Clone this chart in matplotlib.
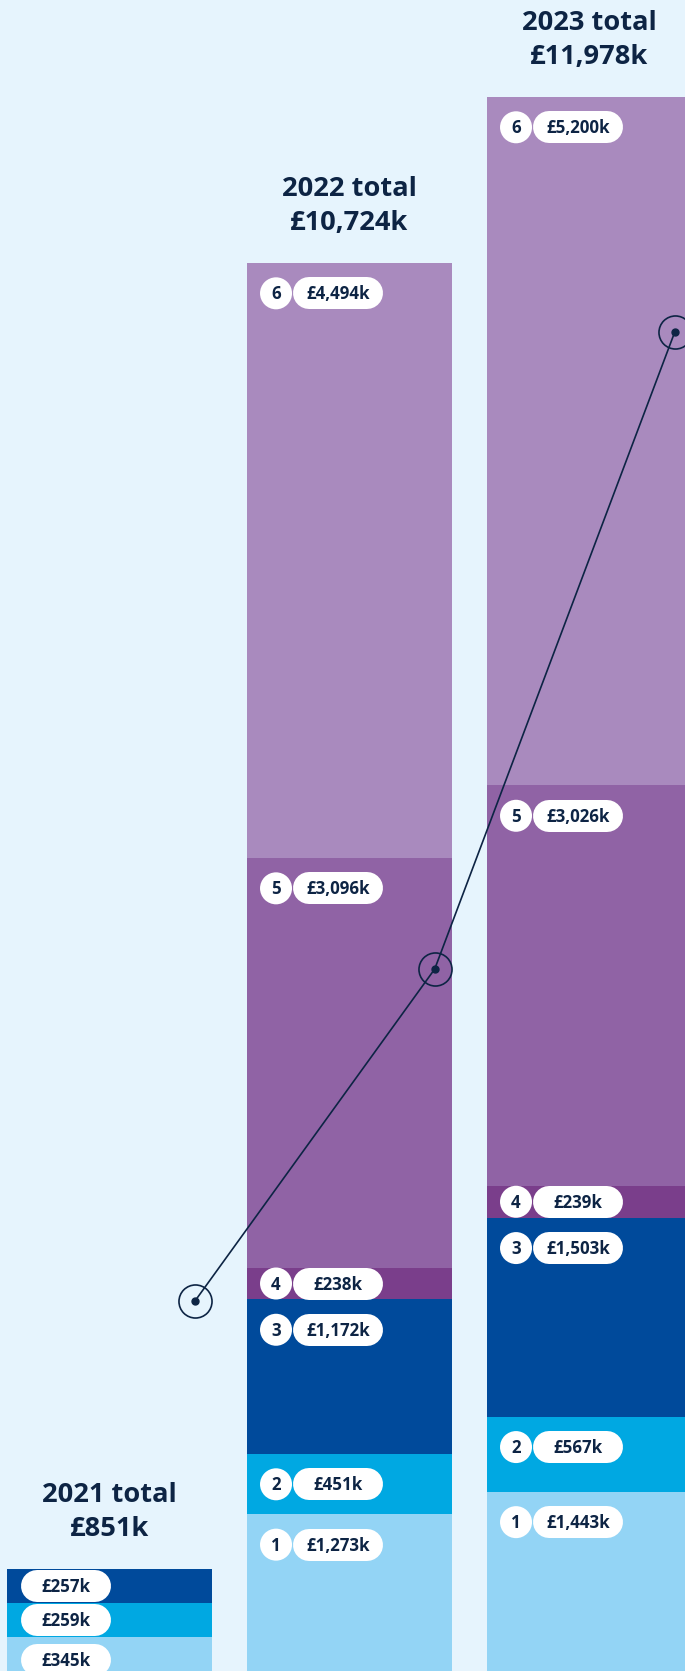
import matplotlib
matplotlib.use('Agg')
import matplotlib.pyplot as plt
from matplotlib.patches import Circle
from matplotlib.transforms import Affine2D, ScaledTranslation

# ---------------- data ----------------
years = ['2021', '2022', '2023']
total_labels = ['£851k', '£10,724k', '£11,978k']
seg1 = [345, 1273, 1443]
seg2 = [259, 451, 567]
seg3 = [257, 1172, 1503]
seg4 = [0, 238, 239]
seg5 = [0, 3096, 3026]
seg6 = [0, 4494, 5200]
segment_numbers = ['1', '2', '3', '4', '5', '6']
show_numbers = [False, True, True]
line_values = [2880, 5390, 10200]

# ---------------- style ----------------
BG = '#E6F4FD'
NAVY = '#0D2444'
COLORS = ['#93D4F5', '#00A8E2', '#004A9B', '#7A3E8B', '#9063A5', '#A98ABE']
FONT = 'Open Sans'
DPI = 100

fig = plt.figure(figsize=(6.85, 16.71), dpi=DPI)
fig.patch.set_facecolor(BG)
ax = fig.add_axes([0, 0, 1, 1])
ax.set_facecolor(BG)
ax.set_xlim(-0.45625, 2.39792)
ax.set_ylim(88.4, 12709)
ax.axis('off')

x = list(range(len(years)))
width = 0.854
segments = [seg1, seg2, seg3, seg4, seg5, seg6]

bottoms = [0] * len(years)
seg_tops = []
for vals, col in zip(segments, COLORS):
    ax.bar(x, vals, bottom=bottoms, width=width, color=col, linewidth=0, zorder=1)
    tops = [b + v for b, v in zip(bottoms, vals)]
    seg_tops.append((list(vals), tops))
    bottoms = tops


def px_trans(xd, yd):
    return Affine2D().scale(1 / DPI) + fig.dpi_scale_trans + ScaledTranslation(xd, yd, ax.transData)


y0 = ax.transData.transform((0, 0))[1]
y1 = ax.transData.transform((0, 1000))[1]
ppu = (y1 - y0) / 1000.0

em_small = 12.2 * DPI / 72.0
cap_small = 0.714 * em_small
pill_lw = 32 * 72.0 / DPI  # 32 px in points

for si, (vals, tops) in enumerate(seg_tops):
    for i in x:
        v = vals[i]
        if v <= 0:
            continue
        left = x[i] - width / 2
        tr = px_trans(left, tops[i])
        h = v * ppu
        off = min(30.5, h / 2)
        label = f'£{v:,}k'
        if show_numbers[i]:
            circ = Circle((29, -off), 16, facecolor='white', edgecolor='none', transform=tr, zorder=4)
            ax.add_patch(circ)
            ax.text(29, -off - cap_small / 2, segment_numbers[si], transform=tr, ha='center', va='baseline',
                    fontsize=12.2, fontweight='bold', family=FONT, color=NAVY, zorder=5)
            px0 = 46
        else:
            px0 = 14
        ax.plot([px0 + 16, px0 + 74], [-off, -off], transform=tr, color='white', lw=pill_lw,
                solid_capstyle='round', zorder=4)
        ax.text(px0 + 45, -off - cap_small / 2, label, transform=tr, ha='center', va='baseline',
                fontsize=12.2, fontweight='bold', family=FONT, color=NAVY, zorder=5)

# totals titles
totals = bottoms
for i in x:
    ax.annotate(total_labels[i], xy=(x[i], totals[i]), xytext=(0, 33), textcoords='offset pixels',
                ha='center', va='baseline', fontsize=19.6, fontweight='bold', family=FONT, color=NAVY)
    ax.annotate(f'{years[i]} total', xy=(x[i], totals[i]), xytext=(0, 67), textcoords='offset pixels',
                ha='center', va='baseline', fontsize=19.6, fontweight='bold', family=FONT, color=NAVY)

# line series
line_x = [xi + 0.355 for xi in x]
ax.plot(line_x, line_values, color=NAVY, lw=1.2, zorder=3)
ax.plot(line_x, line_values, 'o', ms=5, color=NAVY, zorder=3)
ax.plot(line_x, line_values, 'o', ms=23.8, mfc='none', mec=NAVY, mew=1.2, zorder=3)

fig.savefig('out.png', dpi=DPI, facecolor=BG)
